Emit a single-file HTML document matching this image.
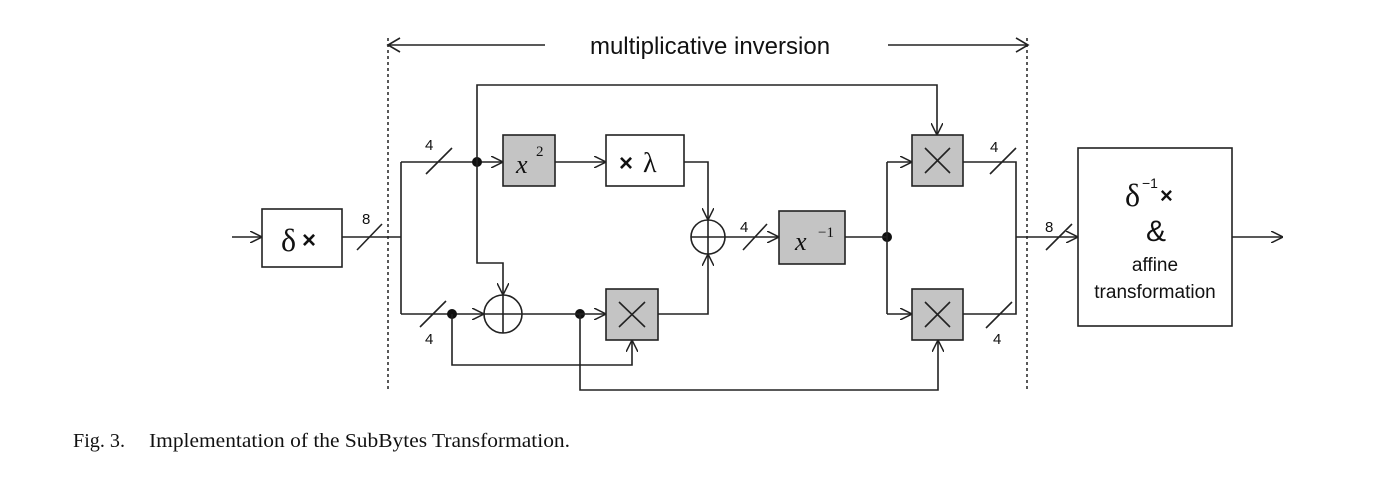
<!DOCTYPE html>
<html><head><meta charset="utf-8"><style>
html,body{margin:0;padding:0;background:#fff;width:1383px;height:490px;overflow:hidden}
svg{display:block}
.w{stroke:#222;stroke-width:1.6;fill:none}
.b{stroke:#222;stroke-width:1.6}
.s{font-family:"Liberation Sans",sans-serif;fill:#111}
.t{font-family:"Liberation Serif",serif;fill:#111}
</style></head><body>
<svg width="1383" height="490" viewBox="0 0 1383 490">
<defs>
<marker id="a" viewBox="0 0 12 12" refX="12" refY="6" markerWidth="12" markerHeight="12" markerUnits="userSpaceOnUse" orient="auto"><path d="M0,0 L12,6 L0,12" fill="none" stroke="#222" stroke-width="1.5"/></marker>
</defs>
<g>
<line class="w" x1="388" y1="45" x2="545" y2="45"/>
<path class="w" d="M400,38 L388,45 L400,52"/>
<line class="w" x1="888" y1="45" x2="1028" y2="45"/>
<path class="w" d="M1016,38 L1028,45 L1016,52"/>
<text class="s" x="710" y="54" font-size="24" text-anchor="middle">multiplicative inversion</text>
</g>
<line x1="388" y1="38" x2="388" y2="390" stroke="#222" stroke-width="1.5" stroke-dasharray="3,3"/>
<line x1="1027" y1="38" x2="1027" y2="390" stroke="#222" stroke-width="1.5" stroke-dasharray="3,3"/>
<line class="w" x1="232" y1="237" x2="262" y2="237" marker-end="url(#a)"/>
<rect class="b" x="262" y="209" width="80" height="58" fill="#fff"/>
<text class="t" x="281" y="251" font-size="32">δ</text><text class="s" x="302" y="248" font-size="24" font-weight="bold">×</text>
<line class="w" x1="342" y1="237" x2="401" y2="237"/>
<line class="w" x1="357" y1="250" x2="382" y2="224"/><text class="s" x="362" y="224" font-size="15">8</text>
<path class="w" d="M401,162 V314"/>
<line class="w" x1="401" y1="162" x2="503" y2="162" marker-end="url(#a)"/>
<line class="w" x1="426" y1="174" x2="452" y2="148"/><text class="s" x="425" y="150" font-size="15">4</text>
<line class="w" x1="401" y1="314" x2="484" y2="314" marker-end="url(#a)"/>
<line class="w" x1="420" y1="327" x2="446" y2="301"/><text class="s" x="425" y="344" font-size="15">4</text>
<circle cx="477" cy="162" r="5" fill="#111"/>
<circle cx="452" cy="314" r="5" fill="#111"/>
<circle cx="580" cy="314" r="5" fill="#111"/>
<circle cx="887" cy="237" r="5" fill="#111"/>
<rect class="b" x="503" y="135" width="52" height="51" fill="#c4c4c4"/>
<text class="t" x="516" y="173" font-size="26" font-style="italic">x</text><text class="t" x="536" y="156" font-size="15">2</text>
<line class="w" x1="555" y1="162" x2="606" y2="162" marker-end="url(#a)"/>
<rect class="b" x="606" y="135" width="78" height="51" fill="#fff"/>
<text class="s" x="619" y="171" font-size="24" font-weight="bold">×</text><text class="t" x="643" y="172" font-size="28">λ</text>
<path class="w" d="M684,162 H708 V220" marker-end="url(#a)"/>
<g><circle class="w" cx="708" cy="237" r="17"/><path class="w" d="M691,237 H725 M708,220 V254"/></g>
<path class="w" d="M658,314 H708 V254" marker-end="url(#a)"/>
<path class="w" d="M477,162 V85 H937 V135" marker-end="url(#a)"/>
<path class="w" d="M477,162 V263 H503 V295" marker-end="url(#a)"/>
<g><circle class="w" cx="503" cy="314" r="19"/><path class="w" d="M484,314 H522 M503,295 V333"/></g>
<line class="w" x1="522" y1="314" x2="606" y2="314" marker-end="url(#a)"/>
<rect class="b" x="606" y="289" width="52" height="51" fill="#c4c4c4"/>
<path class="w" d="M619,302 L645,327 M645,302 L619,327" stroke-width="2.2"/>
<path class="w" d="M452,314 V365 H632 V340" marker-end="url(#a)"/>
<path class="w" d="M580,314 V390 H938 V340" marker-end="url(#a)"/>
<line class="w" x1="725" y1="237" x2="779" y2="237" marker-end="url(#a)"/>
<line class="w" x1="743" y1="250" x2="767" y2="224"/><text class="s" x="740" y="232" font-size="15">4</text>
<rect class="b" x="779" y="211" width="66" height="53" fill="#c4c4c4"/>
<text class="t" x="795" y="250" font-size="26" font-style="italic">x</text><text class="t" x="818" y="237" font-size="15">−1</text>
<line class="w" x1="845" y1="237" x2="887" y2="237"/>
<path class="w" d="M887,162 V314"/>
<line class="w" x1="887" y1="162" x2="912" y2="162" marker-end="url(#a)"/>
<line class="w" x1="887" y1="314" x2="912" y2="314" marker-end="url(#a)"/>
<rect class="b" x="912" y="135" width="51" height="51" fill="#c4c4c4"/>
<path class="w" d="M925,148 L950,173 M950,148 L925,173" stroke-width="2.2"/>
<rect class="b" x="912" y="289" width="51" height="51" fill="#c4c4c4"/>
<path class="w" d="M925,302 L950,327 M950,302 L925,327" stroke-width="2.2"/>
<path class="w" d="M963,162 H1016 V314 H963"/>
<line class="w" x1="990" y1="174" x2="1016" y2="148"/><text class="s" x="990" y="152" font-size="15">4</text>
<line class="w" x1="986" y1="328" x2="1012" y2="302"/><text class="s" x="993" y="344" font-size="15">4</text>
<line class="w" x1="1016" y1="237" x2="1078" y2="237" marker-end="url(#a)"/>
<line class="w" x1="1046" y1="250" x2="1072" y2="224"/><text class="s" x="1045" y="232" font-size="15">8</text>
<rect class="b" x="1078" y="148" width="154" height="178" fill="#fff"/>
<text class="t" x="1125" y="206" font-size="32">δ</text><text class="s" x="1142" y="188" font-size="14">−1</text><text class="s" x="1160" y="203" font-size="22" font-weight="bold">×</text>
<text class="s" x="1156" y="241" font-size="30" text-anchor="middle">&amp;</text>
<text class="s" x="1155" y="271" font-size="19" text-anchor="middle">affine</text>
<text class="s" x="1155" y="298" font-size="19" text-anchor="middle">transformation</text>
<line class="w" x1="1232" y1="237" x2="1283" y2="237" marker-end="url(#a)"/>
<g>
<text class="t" x="73" y="447" font-size="20" textLength="52" lengthAdjust="spacingAndGlyphs">Fig. 3.</text>
<text class="t" x="149" y="447" font-size="20" textLength="421" lengthAdjust="spacingAndGlyphs">Implementation of the SubBytes Transformation.</text>
</g>
</svg>
</body></html>
